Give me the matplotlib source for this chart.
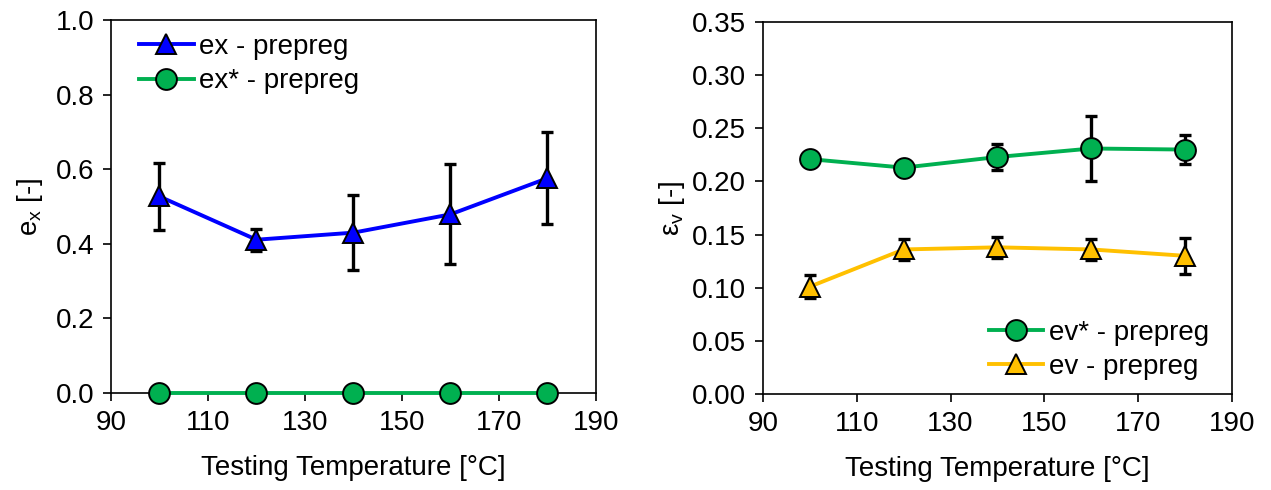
import matplotlib
matplotlib.use("Agg")
import matplotlib.pyplot as plt

plt.rcParams['font.family'] = ['Liberation Sans', 'DejaVu Sans']
plt.rcParams['mathtext.fontset'] = 'custom'
plt.rcParams['mathtext.rm'] = 'Liberation Sans'
plt.rcParams['mathtext.it'] = 'Liberation Sans'

temps = [100, 120, 140, 160, 180]

ex_prepreg = [0.527, 0.411, 0.430, 0.479, 0.576]
ex_prepreg_err = [0.091, 0.030, 0.100, 0.134, 0.123]
exstar_prepreg = [0.0, 0.0, 0.0, 0.0, 0.0]

evstar_prepreg = [0.221, 0.213, 0.223, 0.231, 0.230]
evstar_prepreg_err = [0.0, 0.0, 0.012, 0.031, 0.014]
ev_prepreg = [0.101, 0.136, 0.138, 0.136, 0.130]
ev_prepreg_err = [0.011, 0.010, 0.010, 0.010, 0.017]

xticks = [90, 110, 130, 150, 170, 190]
yticks_left = [0.0, 0.2, 0.4, 0.6, 0.8, 1.0]
yticks_right = [0.00, 0.05, 0.10, 0.15, 0.20, 0.25, 0.30, 0.35]

BLUE = '#0000FF'
GREEN = '#00B050'
ORANGE = '#FFC000'
FS = 20
LW = 2.8
MS = 15
MEW = 1.4

fig = plt.figure(figsize=(12.71, 4.90), dpi=100)
ax1 = fig.add_axes([0.0873, 0.198, 0.3816, 0.761])
ax2 = fig.add_axes([0.6003, 0.196, 0.369, 0.759])

def style(ax):
    for s in ax.spines.values():
        s.set_linewidth(1.2)
        s.set_color('black')
    ax.tick_params(axis='both', direction='out', length=6, width=1.2,
                   labelsize=FS, pad=6, right=False, top=False)

ekw = dict(ecolor='black', elinewidth=2.4, capsize=4, capthick=2.4)

ax1.errorbar(temps, ex_prepreg, yerr=ex_prepreg_err, fmt='none', zorder=2, **ekw)
ax1.plot(temps, ex_prepreg, color=BLUE, lw=LW, marker='^', ms=MS,
         mfc=BLUE, mec='black', mew=MEW, label='ex - prepreg', zorder=3)
ax1.plot(temps, exstar_prepreg, color=GREEN, lw=LW, marker='o', ms=MS,
         mfc=GREEN, mec='black', mew=MEW, label='ex* - prepreg', zorder=3,
         clip_on=False)
ax1.set_xlim(90, 190)
ax1.set_ylim(0, 1.0)
ax1.set_xticks(xticks)
ax1.set_yticks(yticks_left)
ax1.set_yticklabels([f'{v:.1f}' for v in yticks_left])
ax1.set_xlabel('Testing Temperature [°C]', fontsize=FS, labelpad=14)
ax1.set_ylabel(r'e$_\mathregular{x}$ [-]', fontsize=FS, labelpad=8)
style(ax1)
ax1.legend(loc='upper left', frameon=False, fontsize=FS, handlelength=1.95,
           handletextpad=0.2, borderaxespad=0.1, labelspacing=0.3,
           bbox_to_anchor=(0.03, 1.0))

ax2.errorbar(temps, evstar_prepreg, yerr=evstar_prepreg_err, fmt='none', zorder=2, **ekw)
ax2.errorbar(temps, ev_prepreg, yerr=ev_prepreg_err, fmt='none', zorder=2, **ekw)
ax2.plot(temps, evstar_prepreg, color=GREEN, lw=LW, marker='o', ms=MS,
         mfc=GREEN, mec='black', mew=MEW, label='ev* - prepreg', zorder=3)
ax2.plot(temps, ev_prepreg, color=ORANGE, lw=LW, marker='^', ms=MS,
         mfc=ORANGE, mec='black', mew=MEW, label='ev - prepreg', zorder=3)
ax2.set_xlim(90, 190)
ax2.set_ylim(0, 0.35)
ax2.set_xticks(xticks)
ax2.set_yticks(yticks_right)
ax2.set_yticklabels([f'{v:.2f}' for v in yticks_right])
ax2.set_xlabel('Testing Temperature [°C]', fontsize=FS, labelpad=14)
ax2.set_ylabel(r'ε$_\mathregular{v}$ [-]', fontsize=FS)
style(ax2)
ax2.legend(loc='lower right', frameon=False, fontsize=FS, handlelength=1.95,
           handletextpad=0.2, borderaxespad=0.1, labelspacing=0.3,
           bbox_to_anchor=(0.98, 0.0))

fig.savefig('out.png', dpi=100)
